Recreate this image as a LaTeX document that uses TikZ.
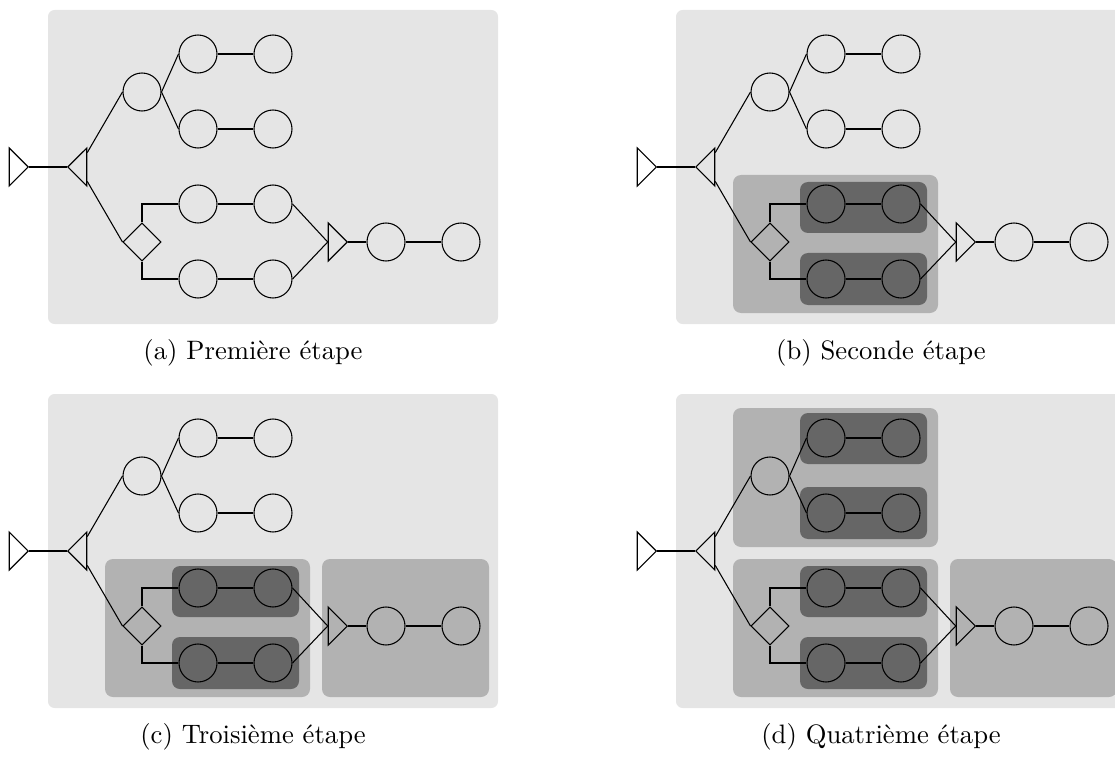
\documentclass[tikz,border=0pt]{standalone}
\usetikzlibrary{shapes.geometric}
\begin{document}
\begin{tikzpicture}[x=0.375pt,y=-0.375pt,
  nd/.style={circle,draw,minimum size=14.25pt,inner sep=0pt},
  dm/.style={diamond,draw,minimum size=14.25pt,inner sep=0pt},
  tri/.style={isosceles triangle,draw,isosceles triangle apex angle=90,inner sep=0pt,minimum height=7.125pt,minimum width=14.25pt},
  bgl/.style={fill=gray!20,rounded corners=2.5pt},
  bgm/.style={fill=gray!60,rounded corners=3pt},
  bgd/.style={fill=black!60,rounded corners=3pt},
  captext/.style={inner sep=0pt}]
\useasboundingbox (0,0) rectangle (1115,762);
\newcommand\mytree[1]{%
  \node[tri,anchor=apex] (#1t0) at (29,167) {};
  \node[tri,shape border rotate=180,anchor=apex] (#1t1) at (67,167) {};
  \node[nd] (#1c0) at (142,92) {};
  \node[nd] (#1c1) at (198,54) {};
  \node[nd] (#1c2) at (273,54) {};
  \node[nd] (#1c3) at (198,129) {};
  \node[nd] (#1c4) at (273,129) {};
  \node[dm] (#1d) at (142,242) {};
  \node[nd] (#1c5) at (198,204) {};
  \node[nd] (#1c6) at (273,204) {};
  \node[nd] (#1c7) at (198,279) {};
  \node[nd] (#1c8) at (273,279) {};
  \node[tri,anchor=apex] (#1t2) at (348,242) {};
  \node[nd] (#1c9) at (386,242) {};
  \node[nd] (#1c10) at (461,242) {};
  \draw (#1t0.apex) -- (#1t1.apex);
  \draw (#1t1) -- (#1c0.west);
  \draw (#1t1) -- (#1d.west);
  \draw (#1c0.east) -- (#1c1.west);
  \draw (#1c0.east) -- (#1c3.west);
  \draw (#1c1) -- (#1c2);
  \draw (#1c3) -- (#1c4);
  \draw (#1d.north) |- (#1c5.west);
  \draw (#1d.south) |- (#1c7.west);
  \draw (#1c5) -- (#1c6);
  \draw (#1c7) -- (#1c8);
  \draw (#1c6.east) -- (#1t2.lower side);
  \draw (#1c8.east) -- (#1t2.lower side);
  \draw (#1t2.apex) -- (#1c9.west);
  \draw (#1c9) -- (#1c10);
}
% panel a
\begin{scope}
  \path[bgl] (48,10) rectangle (498,324);
  \mytree{a}
\end{scope}
\node[captext] (capa) at (253,353) {(a) Première étape};
% panel b
\begin{scope}[shift={(628,0)}]
  \path[bgl] (48,10) rectangle (498,324);
  \path[bgm] (105,175) rectangle (310,313);
  \path[bgd] (172,182) rectangle (299,233);
  \path[bgd] (172,253) rectangle (299,305);
  \mytree{b}
\end{scope}
\node[captext] (capb) at (881,353) {(b) Seconde étape};
% panel c
\begin{scope}[shift={(0,384)}]
  \path[bgl] (48,10) rectangle (498,324);
  \path[bgm] (105,175) rectangle (310,313);
  \path[bgm] (322,175) rectangle (489,313);
  \path[bgd] (172,182) rectangle (299,233);
  \path[bgd] (172,253) rectangle (299,305);
  \mytree{c}
\end{scope}
\node[captext] (capc) at (253,737) {(c) Troisième étape};
% panel d
\begin{scope}[shift={(628,384)}]
  \path[bgl] (48,10) rectangle (498,324);
  \path[bgm] (105,24) rectangle (310,163);
  \path[bgd] (172,29) rectangle (299,80);
  \path[bgd] (172,103) rectangle (299,155);
  \path[bgm] (105,175) rectangle (310,313);
  \path[bgm] (322,175) rectangle (489,313);
  \path[bgd] (172,182) rectangle (299,233);
  \path[bgd] (172,253) rectangle (299,305);
  \mytree{d}
\end{scope}
\node[captext] (capd) at (881,737) {(d) Quatrième étape};
\end{tikzpicture}
\end{document}
